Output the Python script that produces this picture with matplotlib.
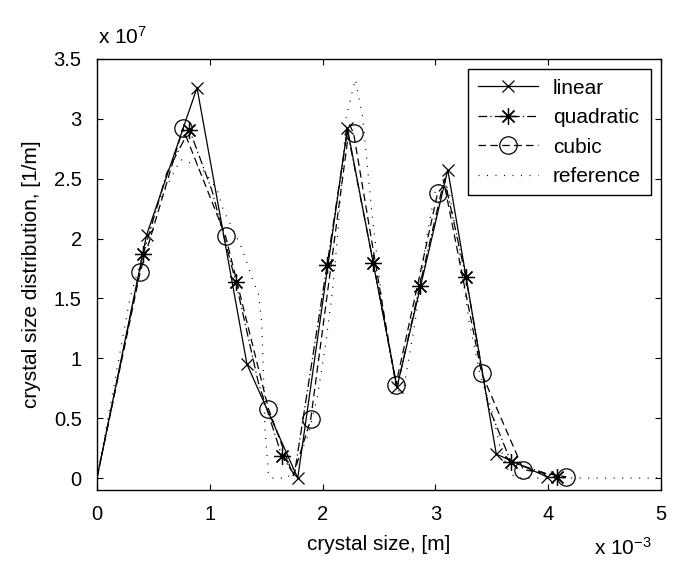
import matplotlib
matplotlib.use("Agg")
import matplotlib.pyplot as plt
import numpy as np

plt.rcParams['font.family'] = ['Liberation Sans', 'DejaVu Sans']
plt.rcParams['mathtext.fontset'] = 'custom'
plt.rcParams['mathtext.rm'] = 'Liberation Sans'
plt.rcParams['mathtext.it'] = 'Liberation Sans'

# crystal size [mm] and distribution [1e7 1/m]
lin_x = [0.0, 0.44, 0.887, 1.33, 1.78, 2.22, 2.66, 3.11, 3.54, 3.99]
lin_y = [0.0, 2.03, 3.26, 0.95, 0.0, 2.92, 0.76, 2.575, 0.20, 0.01]
lin_marks = list(range(1, len(lin_x)))

quad_x = [0.0, 0.41, 0.62, 0.82, 1.02, 1.23, 1.43, 1.64, 1.75, 2.04, 2.22, 2.45, 2.66, 2.86, 3.08, 3.27, 3.47, 3.67, 4.08]
quad_y = [0.0, 1.87, 2.55, 2.91, 2.40, 1.64, 0.80, 0.18, 0.03, 1.78, 2.90, 1.80, 0.75, 1.60, 2.50, 1.68, 0.60, 0.136, 0.005]
quad_marks = [1, 3, 5, 7, 9, 11, 13, 15, 17, 18]

cub_x = [0.0, 0.383, 0.762, 1.14, 1.52, 1.74, 1.895, 2.24, 2.275, 2.65, 3.02, 3.08, 3.41, 3.78, 4.16]
cub_y = [0.0, 1.72, 2.92, 2.02, 0.58, 0.02, 0.49, 2.95, 2.88, 0.78, 2.38, 2.45, 0.875, 0.07, 0.01]
cub_marks = [1, 2, 3, 4, 6, 8, 9, 10, 12, 13, 14]

ref_x = [0.0, 0.29, 0.52, 0.74, 0.92, 1.065, 1.12, 1.29, 1.39, 1.43, 1.46, 1.475, 1.49, 1.52, 1.54,
         1.69, 1.78, 1.87, 1.95, 2.02, 2.09, 2.14, 2.21, 2.29, 2.355, 2.44, 2.55, 2.66, 2.72,
         2.82, 2.92, 3.0, 3.06, 3.12, 3.19, 3.3, 3.4, 3.5, 3.57, 3.65, 3.72, 5.0]
ref_y = [0.0, 1.49, 2.25, 2.66, 2.60, 2.41, 2.24, 1.91, 1.63, 1.55, 1.30, 0.90, 0.40, 0.03, 0.0,
         0.0, 0.15, 0.35, 0.66, 1.07, 1.58, 2.10, 3.02, 3.33, 3.02, 2.19, 1.30, 0.72, 0.75,
         1.30, 2.00, 2.40, 2.50, 2.40, 2.02, 1.30, 0.85, 0.57, 0.27, 0.05, 0.0, 0.0]

FS_TICK = 14.5
FS = 15

fig = plt.figure(figsize=(6.8, 5.64), dpi=100)
ax = fig.add_axes([0.1426, 0.1312, 0.8294, 0.7642])

xs = 1e-3
ys = 1e7
ax.plot(np.array(lin_x) * xs, np.array(lin_y) * ys, '-', color='k', lw=0.9,
        marker='x', ms=9, mew=0.9, markevery=lin_marks, label='linear')
ax.plot(np.array(quad_x) * xs, np.array(quad_y) * ys, color='k', lw=0.9,
        linestyle=(0, (7, 2.5, 1, 2.5)),
        marker=(8, 2, 0), ms=12, mew=0.9, markevery=quad_marks, label='quadratic')
ax.plot(np.array(cub_x) * xs, np.array(cub_y) * ys, color='k', lw=0.9,
        linestyle=(0, (6, 3.5)),
        marker='o', ms=12.5, mfc='none', mew=0.9, markevery=cub_marks, label='cubic')
ax.plot(np.array(ref_x) * xs, np.array(ref_y) * ys, color='k', lw=0.9,
        linestyle=(0, (0.8, 6)), label='reference')

ax.set_xlim(0, 5e-3)
ax.set_ylim(-0.1e7, 3.5e7)
ax.set_xticks(np.arange(0, 5.01, 1) * xs)
ax.set_xticklabels(['0', '1', '2', '3', '4', '5'])
ax.set_yticks(np.arange(0, 3.51, 0.5) * ys)
ax.set_yticklabels(['0', '0.5', '1', '1.5', '2', '2.5', '3', '3.5'])
ax.tick_params(direction='in', length=4.5, width=0.8, top=True, right=True,
               labelsize=FS_TICK)
ax.tick_params(axis='x', pad=11)
ax.tick_params(axis='y', pad=11)
for s in ax.spines.values():
    s.set_linewidth(1.0)

ax.set_xlabel('crystal size, [m]', fontsize=FS, labelpad=8)
ax.set_ylabel('crystal size distribution, [1/m]', fontsize=FS, labelpad=9)
fig.text(0.144, 0.934, r'x 10$^{7}$', fontsize=FS, ha='left', va='center')
fig.text(0.959, 0.028, r'x 10$^{-3}$', fontsize=FS, ha='right', va='center')

leg = ax.legend(loc='upper right', fontsize=FS, handlelength=2.9,
                handletextpad=0.72, borderpad=0.45,
                fancybox=False, edgecolor='k', framealpha=1,
                borderaxespad=0.5, labelspacing=0.5)
leg.get_frame().set_linewidth(1.0)

fig.savefig('out.png', dpi=100)
